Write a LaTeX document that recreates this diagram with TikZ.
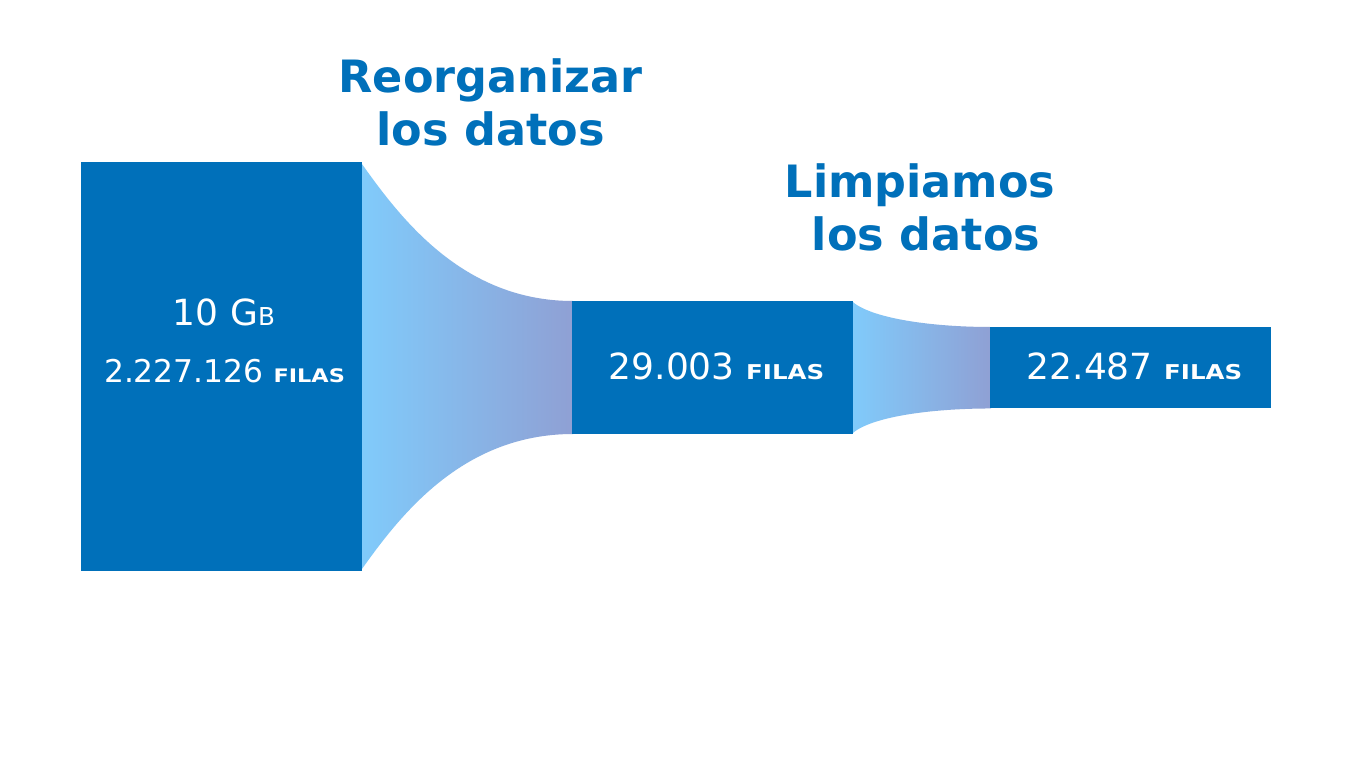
\documentclass[tikz,border=0pt]{standalone}
\usepackage{fontspec}
\setmainfont{DejaVu Sans}
\usepackage{graphicx}
\usetikzlibrary{calc,backgrounds}
\definecolor{boxblue}{RGB}{0,112,186}
\definecolor{fleft}{RGB}{128,203,251}
\definecolor{fright}{RGB}{143,160,212}
\newcommand\filas[1]{{\fontsize{#1}{#1}\selectfont\bfseries\scalebox{1.2}[1]{FILAS}}}
\tikzset{
  box/.style={fill=boxblue, draw=none, inner sep=0pt, outer sep=0pt, anchor=north west},
  funnel/.style={left color=fleft, right color=fright, draw=none},
  title/.style={text=boxblue, font=\fontsize{33.4}{40}\selectfont\bfseries, anchor=base, inner sep=0pt},
  inlabel/.style={text=white, anchor=base, inner sep=0pt},
}
\begin{document}
\begin{tikzpicture}[x=0.75pt,y=-0.75pt]
\useasboundingbox (0,0) rectangle (1365,768);
% boxes
\node[box, minimum width=210.4pt, minimum height=306.75pt] (b1) at (81,162) {};
\node[box, minimum width=210.5pt, minimum height=99.75pt] (b2) at (572,301) {};
\node[box, minimum width=210.5pt, minimum height=61.1pt] (b3) at (990,327) {};
% funnels
\begin{scope}[on background layer]
\fill[white] (0,0) rectangle (1365,768);
\shade[funnel] ($(b1.north east)+(-1,0)$) .. controls ($(b1.north east)+(38,55)$) and ($(b2.north west)+(-110,0)$) .. ($(b2.north west)+(1,0)$)
  -- ($(b2.south west)+(1,0)$) .. controls ($(b2.south west)+(-110,0)$) and ($(b1.south east)+(38,-55)$) .. ($(b1.south east)+(-1,0)$) -- cycle;
\shade[funnel] ($(b2.north east)+(-1,0)$) .. controls ($(b2.north east)+(17,17)$) and ($(b3.north west)+(-60,0)$) .. ($(b3.north west)+(1,0)$)
  -- ($(b3.south west)+(1,0)$) .. controls ($(b3.south west)+(-60,0)$) and ($(b2.south east)+(17,-17)$) .. ($(b2.south east)+(-1,0)$) -- cycle;
\end{scope}
% titles
\node[title] (t1a) at (490.5,92) {Reorganizar};
\node[title] (t1b) at (490.5,145) {los datos};
\node[title] (t2a) at (920,197) {Limpiamos};
\node[title] (t2b) at (926,250) {los datos};
% labels
\node[inlabel] (l1a) at (224,325) {\fontsize{27}{27}\selectfont 10 G{\fontsize{18.5}{18.5}\selectfont B}};
\node[inlabel] (l1b) at (224.5,382) {\fontsize{23.5}{23.5}\selectfont 2.227.126 \filas{14}};
\node[inlabel] (l2) at (716.5,379.3) {\fontsize{27}{27}\selectfont 29.003 \filas{15.3}};
\node[inlabel] (l3) at (1134.5,379.3) {\fontsize{27}{27}\selectfont 22.487 \filas{15.3}};
\end{tikzpicture}
\end{document}
